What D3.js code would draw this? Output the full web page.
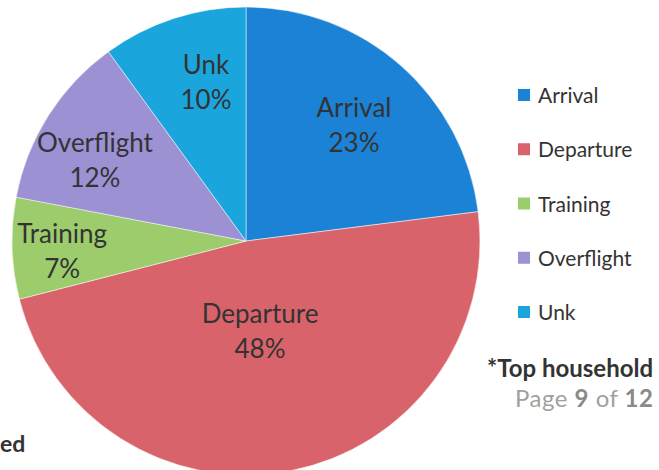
<!DOCTYPE html>
<html>
<head>
<meta charset="utf-8">
<script src="https://cdn.jsdelivr.net/npm/d3@7"></script>
<style>
  html, body { margin: 0; padding: 0; background: #fff; overflow: hidden; }
  svg { display: block; }
</style>
</head>
<body>
<svg id="chart" width="659" height="470"></svg>
<script>
// ---- data ----
const categories = ["Arrival", "Departure", "Training", "Overflight", "Unk"];
const shares = [23, 48, 7, 12, 10];
const percentLabels = ["23%", "48%", "7%", "12%", "10%"];
const colors = ["#1b82d6", "#d9636a", "#9ccc6b", "#9b91d3", "#1ba5dd"];
const footnote = "*Top household";
const pageText = ["Page ", "9", " of ", "12"];
const cornerText = "ed";

// ---- layout ----
const W = 659, H = 470;
const cx = 246, cy = 241, R = 234;
// label placement (Excel best-fit style): radius fraction and angular nudge in degrees
const labelRadius = [0.647, 0.43, 0.79, 0.714, 0.66];
const labelNudge = [4.1, 2.8, -4.3, -7.1, 3];
const font = "Lato, 'Open Sans', sans-serif";

const svg = d3.select("#chart");
const data = categories.map((c, i) => ({ name: c, value: shares[i], pct: percentLabels[i], color: colors[i], i }));

const pie = d3.pie().value(d => d.value).sort(null);
const arcs = pie(data);
const arc = d3.arc().innerRadius(0).outerRadius(R);

const g = svg.append("g").attr("transform", `translate(${cx},${cy})`);
g.selectAll("path.slice").data(arcs).join("path")
  .attr("class", "slice")
  .attr("d", arc)
  .attr("fill", d => d.data.color)
  .attr("stroke", "#ffffff")
  .attr("stroke-opacity", 0.5)
  .attr("stroke-width", 1);

// slice labels
const lbl = g.selectAll("g.lbl").data(arcs).join("g").attr("class", "lbl")
  .attr("transform", d => {
    const a = (d.startAngle + d.endAngle) / 2 + labelNudge[d.data.i] * Math.PI / 180;
    const r = R * labelRadius[d.data.i];
    return `translate(${r * Math.sin(a)},${-r * Math.cos(a)})`;
  });
lbl.append("text")
  .attr("text-anchor", "middle")
  .attr("y", -17.5)
  .attr("font-family", font)
  .attr("font-size", 26)
  .attr("fill", "#333")
  .text(d => d.data.name);
lbl.append("text")
  .attr("text-anchor", "middle")
  .attr("y", 17.5)
  .attr("font-family", font)
  .attr("font-size", 26)
  .attr("fill", "#333")
  .text(d => d.data.pct);

// legend
const legY = d3.scalePoint().domain(categories).range([95, 312]);
const leg = svg.append("g");
const li = leg.selectAll("g").data(data).join("g")
  .attr("transform", d => `translate(518,${legY(d.name)})`);
li.append("rect").attr("x", 0).attr("y", -6).attr("width", 12).attr("height", 12)
  .attr("fill", d => d.color);
li.append("text").attr("x", 20).attr("y", 8)
  .attr("font-family", font).attr("font-size", 21).attr("fill", "#333")
  .text(d => d.name);

// footnote & page number
svg.append("text").attr("x", 487).attr("y", 377)
  .attr("font-family", font).attr("font-size", 24).attr("font-weight", "bold")
  .attr("fill", "#333").text(footnote);
const pg = svg.append("text").attr("x", 515).attr("y", 407)
  .attr("font-family", font).attr("font-size", 24).attr("letter-spacing", 0.5)
  .attr("fill", "#9a9a9a");
pageText.forEach((t, i) => {
  pg.append("tspan").attr("font-weight", i % 2 === 1 ? "bold" : "normal")
    .attr("fill", i % 2 === 1 ? "#8a8a8a" : "#a0a0a0").text(t);
});
svg.append("text").attr("x", 0).attr("y", 452)
  .attr("font-family", font).attr("font-size", 23).attr("font-weight", "bold")
  .attr("fill", "#333").text(cornerText);
</script>
</body>
</html>
